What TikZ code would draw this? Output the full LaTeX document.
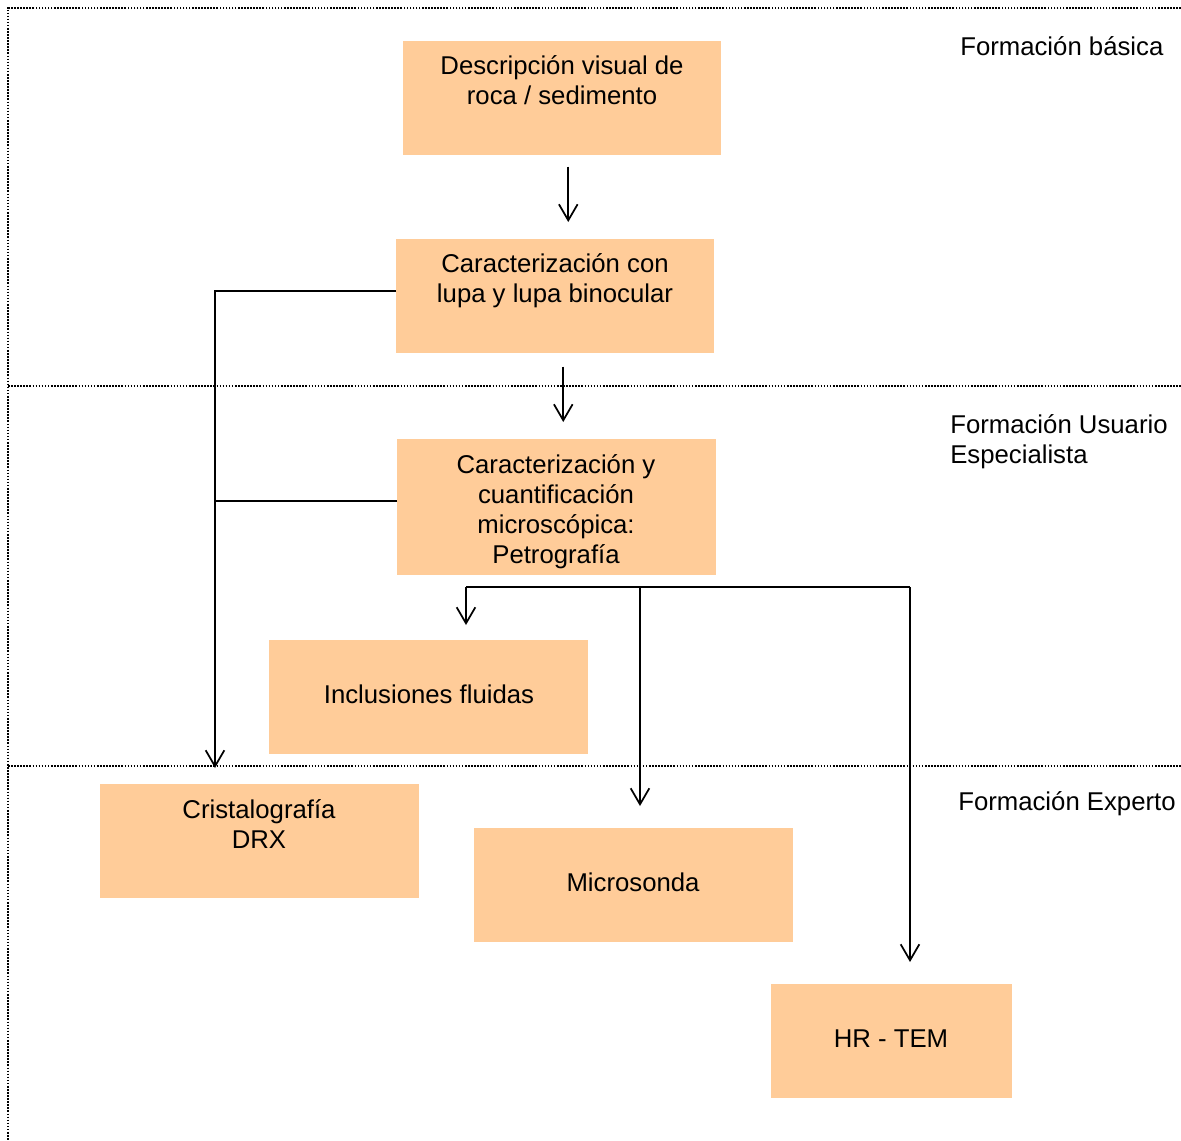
\documentclass[tikz,border=0pt]{standalone}
\usepackage{fontspec}
\setmainfont{Liberation Sans}
\usetikzlibrary{arrows.meta}
\definecolor{peach}{RGB}{255,204,153}
\begin{document}
\begin{tikzpicture}[x=0.75pt,y=-0.75pt,
  box/.style={fill=peach, draw=none, inner sep=0pt, anchor=north west},
  txt/.style={align=center, font=\fontsize{19.3}{22.5}\selectfont, inner sep=0pt},
  lbl/.style={align=left, anchor=west, font=\fontsize{19.3}{22.5}\selectfont, inner sep=0pt},
  conn/.style={line width=1.3pt},
  arr/.style={conn, -{Straight Barb[length=12pt,width=14pt,line width=1.3pt]}},
  sepline/.style={line width=1.5pt, dash pattern=on 1.2pt off 1.1pt}]
\useasboundingbox (0,0) rectangle (1181,1140);

% frame and separators
\coordinate (tl) at (8,8);
\coordinate (tr) at (1181,8);
\coordinate (bl) at (8,1140);
\coordinate (s1l) at (8,386);
\coordinate (s1r) at (1181,386);
\coordinate (s2l) at (8,766);
\coordinate (s2r) at (1181,766);
\draw[sepline] (tr) -- (tl) -- (bl);
\draw[sepline] (s1l) -- (s1r);
\draw[sepline] (s2l) -- (s2r);

% boxes
\node[box, minimum width=238.5pt, minimum height=85.5pt] (b1) at (403,41) {};
\node[box, minimum width=238.5pt, minimum height=85.5pt] (b2) at (396,239) {};
\node[box, minimum width=239.25pt, minimum height=102pt] (b3) at (397,439) {};
\node[box, minimum width=239.25pt, minimum height=85.5pt] (b4) at (269,640) {};
\node[box, minimum width=239.25pt, minimum height=85.5pt] (b5) at (100,784) {};
\node[box, minimum width=239.25pt, minimum height=85.5pt] (b6) at (474,828) {};
\node[box, minimum width=180.75pt, minimum height=85.5pt] (b7) at (771,984) {};

% texts
\node[txt] (t1) at (562,80) {Descripción visual de\\roca / sedimento};
\node[txt] (t2) at (555,281) {Caracterización con\\lupa y lupa binocular};
\node[txt] (t3) at (556,512) {Caracterización y\\cuantificación\\microscópica:\\Petrografía};
\node[txt] (t4) at (429,694) {Inclusiones fluidas};
\node[txt] (t5) at (259,824) {Cristalografía\\DRX};
\node[txt] (t6) at (633,882) {Microsonda};
\node[txt] (t7) at (891,1039) {HR - TEM};

% level labels
\node[lbl] (l1) at (960,46) {Formación básica};
\node[lbl] (l2) at (950,442) {Formación Usuario\\Especialista};
\node[lbl] (l3) at (958,804) {Formación Experto};

% connectors
\draw[arr] ([shift={(6,11)}]b1.south) -- ([shift={(13,-17)}]b2.north);
\draw[arr] ([shift={(8,13)}]b2.south) -- ([shift={(6.5,-17)}]b3.north);

\coordinate (c1) at (215,768);
\draw[arr] ([shift={(0,-5)}]b2.west) -| (c1);
\draw[conn] ([shift={(0,-6)}]b3.west) -- ([shift={(0,-6)}]b3.west -| c1);

\coordinate (h1) at (466,587);
\coordinate (h2) at (640,587);
\coordinate (h3) at (910,587);
\coordinate (e1) at (466,625);
\coordinate (e2) at (640,806);
\coordinate (e3) at (910,962);
\draw[conn] (h1) -- (h3);
\draw[arr] (h1) -- (e1);
\draw[arr] (h2) -- (e2);
\draw[arr] (h3) -- (e3);
\end{tikzpicture}
\end{document}
